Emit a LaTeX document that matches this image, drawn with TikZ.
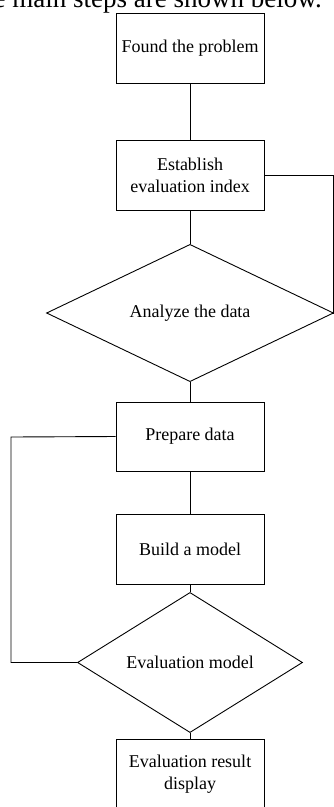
\documentclass[tikz,border=0pt]{standalone}
\usepackage{fontspec}
\setmainfont{Liberation Serif}
\usetikzlibrary{shapes.geometric}
\begin{document}
\begin{tikzpicture}[x=1pt,y=-1pt,
  every node/.style={font=\fontsize{18}{22}\selectfont},
  stepbox/.style={draw, line width=0.9pt, rectangle, minimum width=148pt,
    minimum height=70pt, inner sep=0pt, align=center},
  testbox/.style={draw, line width=0.9pt, diamond, inner sep=0pt, align=center},
  link/.style={draw, line width=0.9pt}]
  \useasboundingbox (0,0) rectangle (334,807);
  \clip (0,0) rectangle (334,807);

  % caption line above the chart
  \node[anchor=base east, inner sep=0pt, font=\fontsize{27}{32}\selectfont]
    (caption) at (322,7.5) {The main steps are shown below.};

  % process steps and decisions
  \node[stepbox] (found)   at (190,48)    {Found the problem};
  \node[stepbox] (index)   at (190,175)   {Establish\\evaluation index};
  \node[testbox, minimum width=287pt, minimum height=92pt]
                 (analyze) at (190,313)   {Analyze the data};
  \node[stepbox, minimum height=69pt] (prepare) at (190,436.5) {Prepare data};
  \node[stepbox] (build)   at (190,549)   {Build a model};
  \node[testbox, minimum width=225pt, minimum height=72pt]
                 (evalm)   at (190,662.5) {Evaluation model};
  \node[stepbox] (result)  at (190,774)   {Evaluation result\\display};

  % connectors
  \coordinate (rightrail) at (333.4,175);
  \coordinate (leftrail)  at (11,437);
  \path[link] (found.south) -- (index.north);
  \path[link] (index.south) -- (analyze.north);
  \path[link] (index.east) -- (rightrail) |- (analyze.east);
  \path[link] (analyze.south) -- (prepare.north);
  \path[link] (prepare.south) -- (build.north);
  \path[link] (build.south) -- (evalm.north);
  \path[link] (prepare.west) -- (leftrail) |- (evalm.west);
  \path[link] (evalm.south) -- (result.north);
\end{tikzpicture}
\end{document}
